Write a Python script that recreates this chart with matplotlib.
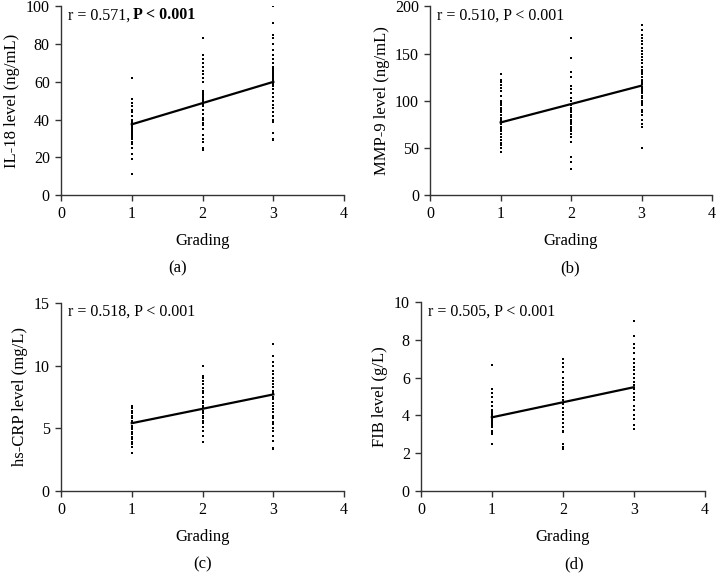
import matplotlib.pyplot as plt

plt.rcParams['font.family'] = ['Liberation Serif', 'DejaVu Serif']
plt.rcParams['font.size'] = 10

# grading levels
grades = [1, 2, 3]

# IL-18 (ng/mL)
il18_g1 = [11, 19, 22, 25, 27, 28, 30, 31, 32, 33, 34, 35, 36, 37, 38, 39, 40, 42, 44, 45, 47, 49, 51, 62]
il18_g2 = [24, 25, 28, 30, 32, 35, 37, 38, 40, 41, 43, 45, 47, 48, 49, 50, 51, 52, 53, 54, 55,
           60, 62, 64, 66, 68, 70, 72, 74, 83]
il18_g3 = [29, 30, 33, 39, 40, 42, 44, 46, 48, 50, 52, 54, 56, 58, 59, 60, 61, 62, 63, 64, 65,
           66, 67, 68, 70, 72, 74, 77, 80, 83, 85, 91, 100]
il18_fit = [37.5, 60]

# MMP-9 (ng/mL)
mmp9_g1 = [46, 50, 53, 55, 58, 62, 65, 68, 70, 72, 75, 78, 80, 82, 85, 88, 90, 92, 95, 98, 100,
           105, 110, 113, 117, 120, 122, 128]
mmp9_g2 = [28, 35, 40, 56, 62, 65, 68, 70, 72, 75, 78, 80, 83, 85, 88, 90, 92, 95, 97, 100, 103,
           108, 112, 116, 125, 130, 145, 166]
mmp9_g3 = [50, 72, 75, 80, 85, 88, 90, 95, 98, 100, 103, 105, 108, 110, 112, 115, 118, 120, 122,
           125, 128, 130, 133, 136, 140, 143, 146, 150, 153, 156, 160, 163, 166, 170, 175, 180]
mmp9_fit = [77, 116]

# hs-CRP (mg/L)
crp_g1 = [3.0, 3.5, 3.7, 3.9, 4.1, 4.3, 4.5, 4.7, 4.9, 5.0, 5.2, 5.4, 5.6, 5.8, 6.0, 6.2, 6.4, 6.6, 6.8]
crp_g2 = [3.9, 4.4, 4.8, 5.1, 5.4, 5.6, 5.8, 6.0, 6.2, 6.4, 6.6, 6.8, 7.0, 7.2, 7.5, 7.8, 8.0,
          8.2, 8.5, 8.8, 9.0, 9.2, 10.0]
crp_g3 = [3.3, 3.4, 4.0, 4.4, 4.8, 5.0, 5.3, 5.5, 5.8, 6.0, 6.3, 6.5, 6.8, 7.0, 7.3, 7.5, 7.8,
          8.0, 8.3, 8.5, 8.8, 9.0, 9.3, 9.6, 10.0, 10.3, 10.8, 11.7]
crp_fit = [5.4, 7.7]

# FIB (g/L)
fib_g1 = [2.5, 3.0, 3.1, 3.2, 3.4, 3.5, 3.6, 3.7, 3.8, 3.9, 4.0, 4.1, 4.2, 4.3, 4.5, 4.7, 5.0,
          5.2, 5.4, 6.7]
fib_g2 = [2.2, 2.3, 2.5, 3.1, 3.2, 3.4, 3.6, 3.8, 4.0, 4.2, 4.4, 4.6, 4.8, 5.0, 5.2, 5.4, 5.6,
          5.8, 6.0, 6.3, 6.6, 6.8, 7.0]
fib_g3 = [3.3, 3.5, 3.8, 4.0, 4.3, 4.5, 4.8, 5.0, 5.2, 5.4, 5.6, 5.8, 6.0, 6.2, 6.4, 6.6, 6.8,
          7.0, 7.3, 7.6, 7.8, 8.2, 9.0]
fib_fit = [3.9, 5.5]

panels = [
    dict(groups=[il18_g1, il18_g2, il18_g3], fit=il18_fit, ymax=100, step=20,
         ylabel='IL-18 level (ng/mL)', r='0.571', bold=True, tag='(a)',
         rect=[0.085, 0.660, 0.395, 0.329], tagx=0.247, tagy=0.533),
    dict(groups=[mmp9_g1, mmp9_g2, mmp9_g3], fit=mmp9_fit, ymax=200, step=50,
         ylabel='MMP-9 level (ng/mL)', r='0.510', bold=False, tag='(b)',
         rect=[0.600, 0.660, 0.393, 0.329], tagx=0.795, tagy=0.533),
    dict(groups=[crp_g1, crp_g2, crp_g3], fit=crp_fit, ymax=15, step=5,
         ylabel='hs-CRP level (mg/L)', r='0.518', bold=False, tag='(c)',
         rect=[0.085, 0.145, 0.395, 0.327], tagx=0.282, tagy=0.017),
    dict(groups=[fib_g1, fib_g2, fib_g3], fit=fib_fit, ymax=10, step=2,
         ylabel='FIB level (g/L)', r='0.505', bold=False, tag='(d)',
         rect=[0.587, 0.145, 0.396, 0.328], tagx=0.801, tagy=0.017),
]

fig = plt.figure(figsize=(7.17, 5.74), dpi=100)

for p in panels:
    ax = fig.add_axes(p['rect'])
    for g, vals in zip(grades, p['groups']):
        ax.plot([g] * len(vals), vals, linestyle='none', marker='s',
                markersize=1.5, color='black', markeredgewidth=0)
    ax.plot([grades[0], grades[-1]], p['fit'], color='black', linewidth=1.6)

    ax.set_xlim(0, 4)
    ax.set_ylim(0, p['ymax'])
    ax.set_xticks([0, 1, 2, 3, 4])
    ax.set_yticks(list(range(0, p['ymax'] + 1, p['step'])))
    for side in ['top', 'right']:
        ax.spines[side].set_visible(False)
    for side in ['left', 'bottom']:
        ax.spines[side].set_color('#333333')
        ax.spines[side].set_linewidth(1.0)
    ax.tick_params(direction='out', length=4, width=1.0, color='#333333',
                   labelsize=11.5, pad=4)
    ax.set_xlabel('Grading', fontsize=12, labelpad=8)
    ax.set_ylabel(p['ylabel'], fontsize=12, labelpad=4)

    if p['bold']:
        ax.text(0.025, 0.995, 'r = ' + p['r'] + ', ', transform=ax.transAxes,
                va='top', ha='left', fontsize=11.5)
        ax.text(0.255, 0.995, 'P < 0.001', transform=ax.transAxes,
                va='top', ha='left', fontsize=11.5, fontweight='bold')
    else:
        ax.text(0.025, 0.995, 'r = ' + p['r'] + ', P < 0.001', transform=ax.transAxes,
                va='top', ha='left', fontsize=11.5)

    fig.text(p['tagx'], p['tagy'], p['tag'], ha='center', va='center', fontsize=12)

fig.savefig('out.png', dpi=100)
